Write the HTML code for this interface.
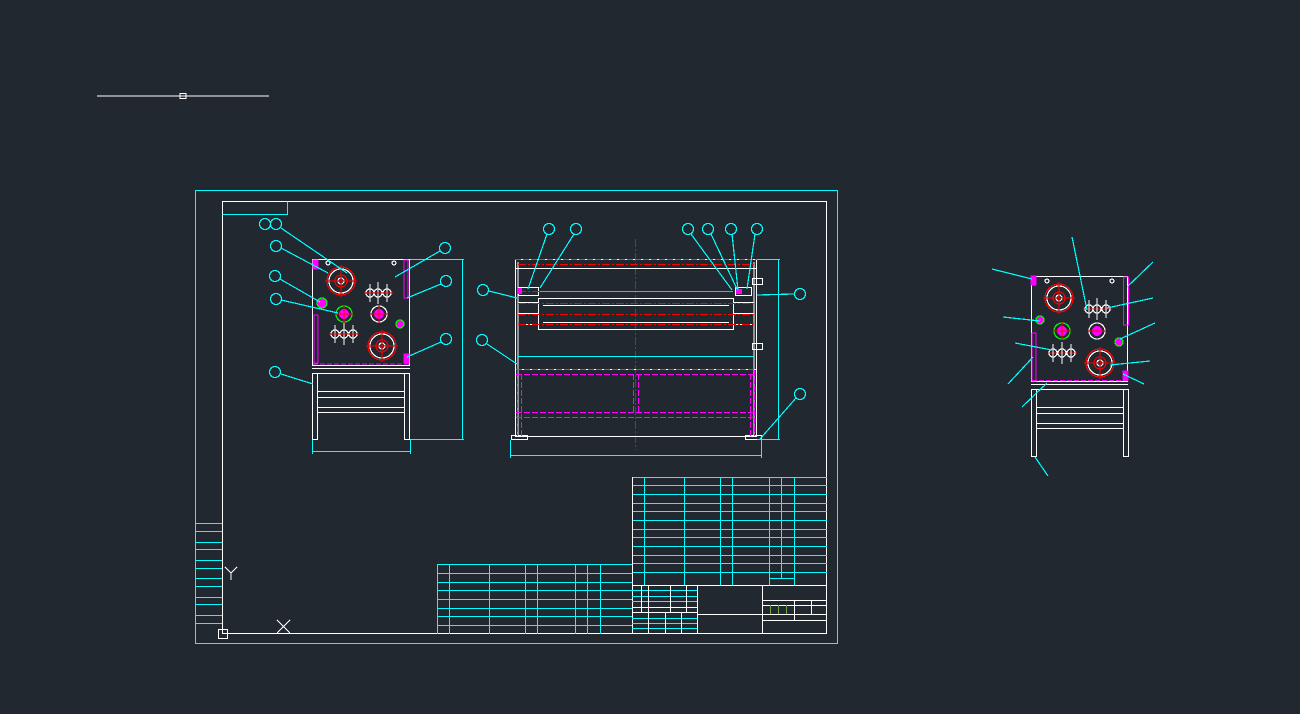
<!DOCTYPE html>
<html><head><meta charset="utf-8"><style>
html,body{margin:0;padding:0;background:#212830;}
svg{display:block}
</style></head><body>
<svg width="1300" height="714" viewBox="0 0 1300 714" xmlns="http://www.w3.org/2000/svg" fill="none" stroke-width="1.2" shape-rendering="crispEdges">
<rect x="0" y="0" width="1300" height="714" fill="#212830"/>
<line x1="97" y1="96" x2="269" y2="96" stroke="#fff"/>
<rect x="180" y="93.5" width="6" height="5" stroke="#fff"/>

<rect x="195.5" y="190.5" width="642" height="453" stroke="#0ff"/>
<rect x="222.5" y="201.5" width="604" height="432" stroke="#fff"/>
<polyline points="222.5,214.5 287.5,214.5 287.5,201.5" stroke="#0ff"/>

<g stroke="#0ff">
<line x1="195" y1="523.5" x2="222" y2="523.5"/><line x1="195" y1="531.5" x2="222" y2="531.5"/>
<line x1="195" y1="542.5" x2="222" y2="542.5"/><line x1="195" y1="549.5" x2="222" y2="549.5"/>
<line x1="195" y1="560.5" x2="222" y2="560.5"/><line x1="195" y1="568.5" x2="222" y2="568.5"/>
<line x1="195" y1="578.5" x2="222" y2="578.5"/><line x1="195" y1="586.5" x2="222" y2="586.5"/>
<line x1="195" y1="597.5" x2="222" y2="597.5"/><line x1="195" y1="604.5" x2="222" y2="604.5"/>
<line x1="195" y1="615.5" x2="222" y2="615.5"/><line x1="195" y1="623.5" x2="222" y2="623.5"/>
</g>
<g stroke="#fff">
<rect x="218.5" y="629.5" width="9" height="9"/>
<polyline points="225,567 231,573 237,567"/><line x1="231" y1="573" x2="231" y2="580"/>
<line x1="277" y1="620" x2="290" y2="633"/><line x1="290" y1="620" x2="277" y2="633"/>
</g>

<g stroke="#0ff">
<line x1="632" y1="477.5" x2="827" y2="477.5"/><line x1="632" y1="485.5" x2="827" y2="485.5"/>
<line x1="632" y1="494.5" x2="827" y2="494.5"/><line x1="632" y1="503.5" x2="827" y2="503.5"/>
<line x1="632" y1="511.5" x2="827" y2="511.5"/><line x1="632" y1="520.5" x2="827" y2="520.5"/>
<line x1="632" y1="529.5" x2="827" y2="529.5"/><line x1="632" y1="537.5" x2="827" y2="537.5"/>
<line x1="632" y1="546.5" x2="827" y2="546.5"/><line x1="632" y1="555.5" x2="827" y2="555.5"/>
<line x1="632" y1="563.5" x2="827" y2="563.5"/><line x1="632" y1="572.5" x2="827" y2="572.5"/>
<line x1="769" y1="578.5" x2="794" y2="578.5"/>
<line x1="644.5" y1="477" x2="644.5" y2="585"/><line x1="684.5" y1="477" x2="684.5" y2="585"/>
<line x1="720.5" y1="477" x2="720.5" y2="585"/><line x1="732.5" y1="477" x2="732.5" y2="585"/>
<line x1="769.5" y1="477" x2="769.5" y2="585"/><line x1="781.5" y1="477" x2="781.5" y2="578"/>
<line x1="794.5" y1="477" x2="794.5" y2="585"/>
</g>
<line x1="632.5" y1="477" x2="632.5" y2="634" stroke="#fff"/>
<line x1="632" y1="585.5" x2="827" y2="585.5" stroke="#fff"/>

<g stroke="#0ff">
<line x1="437" y1="564.5" x2="632" y2="564.5"/><line x1="437" y1="573.5" x2="632" y2="573.5"/>
<line x1="437" y1="582.5" x2="632" y2="582.5"/><line x1="437" y1="590.5" x2="632" y2="590.5"/>
<line x1="437" y1="599.5" x2="632" y2="599.5"/><line x1="437" y1="608.5" x2="632" y2="608.5"/>
<line x1="437" y1="616.5" x2="632" y2="616.5"/><line x1="437" y1="625.5" x2="632" y2="625.5"/>
<line x1="437.5" y1="564" x2="437.5" y2="634"/><line x1="449.5" y1="564" x2="449.5" y2="634"/>
<line x1="489.5" y1="564" x2="489.5" y2="634"/><line x1="525.5" y1="564" x2="525.5" y2="634"/>
<line x1="537.5" y1="564" x2="537.5" y2="634"/><line x1="575.5" y1="564" x2="575.5" y2="634"/>
<line x1="587.5" y1="564" x2="587.5" y2="634"/><line x1="600.5" y1="564" x2="600.5" y2="634"/>
</g>

<g stroke="#0ff">
<line x1="632" y1="590.5" x2="697" y2="590.5"/><line x1="632" y1="596.5" x2="697" y2="596.5"/>
<line x1="632" y1="601.5" x2="697" y2="601.5"/>
<line x1="632" y1="618.5" x2="697" y2="618.5"/><line x1="632" y1="623.5" x2="697" y2="623.5"/>
<line x1="632" y1="628.5" x2="697" y2="628.5"/>
</g>
<g stroke="#fff">
<line x1="632" y1="607.5" x2="697" y2="607.5"/><line x1="632" y1="612.5" x2="697" y2="612.5"/>
<line x1="641.5" y1="585" x2="641.5" y2="612"/><line x1="648.5" y1="585" x2="648.5" y2="634"/>
<line x1="670.5" y1="585" x2="670.5" y2="612"/><line x1="686.5" y1="585" x2="686.5" y2="612"/>
<line x1="665.5" y1="612" x2="665.5" y2="634"/><line x1="681.5" y1="612" x2="681.5" y2="634"/>
<line x1="697.5" y1="585" x2="697.5" y2="634"/><line x1="762.5" y1="585" x2="762.5" y2="634"/>
<line x1="697" y1="614.5" x2="762" y2="614.5"/>
<line x1="762" y1="600.5" x2="827" y2="600.5"/><line x1="762" y1="605.5" x2="827" y2="605.5"/>
<line x1="762" y1="614.5" x2="827" y2="614.5"/><line x1="762" y1="620.5" x2="827" y2="620.5"/>
<line x1="794.5" y1="600" x2="794.5" y2="620"/><line x1="811.5" y1="600" x2="811.5" y2="614"/>
</g>
<g stroke="#6a3"><line x1="770.5" y1="605" x2="770.5" y2="614"/><line x1="778.5" y1="605" x2="778.5" y2="614"/><line x1="786.5" y1="605" x2="786.5" y2="614"/></g>

<!-- LEFT VIEW -->
<g stroke="#fff">
<rect x="312.5" y="259.5" width="97" height="106"/>
<line x1="312" y1="368.5" x2="410" y2="368.5"/><line x1="312" y1="373.5" x2="410" y2="373.5"/>
<rect x="312.5" y="373.5" width="5" height="66"/><rect x="404.5" y="373.5" width="5" height="66"/>
<line x1="318" y1="391.5" x2="404" y2="391.5"/><line x1="318" y1="397.5" x2="404" y2="397.5"/>
<line x1="318" y1="407.5" x2="404" y2="407.5"/><line x1="318" y1="412.5" x2="404" y2="412.5"/>
<circle cx="328" cy="263" r="2"/><circle cx="394" cy="263" r="2"/>
</g>
<g stroke="#f0f"><rect x="313" y="260" width="5" height="9" fill="#f0f"/><rect x="404" y="260" width="4" height="38"/><rect x="314" y="315" width="4" height="48"/><rect x="404" y="354" width="5" height="9" fill="#f0f"/><line x1="313" y1="364" x2="409" y2="364" stroke-dasharray="5,2"/></g>
<g>
<circle cx="341" cy="281" r="14" stroke="#f00"/><circle cx="341" cy="281" r="12" stroke="#fff"/><circle cx="341" cy="281" r="6" stroke="#f00"/><circle cx="341" cy="281" r="3" stroke="#fff"/>
<circle cx="382" cy="346" r="14" stroke="#f00"/><circle cx="382" cy="346" r="12" stroke="#fff"/><circle cx="382" cy="346" r="6" stroke="#f00"/><circle cx="382" cy="346" r="3" stroke="#fff"/>
<circle cx="322" cy="303" r="5" stroke="#0f0" fill="#f0f"/>
<circle cx="344" cy="314" r="8" stroke="#0f0"/><circle cx="344" cy="314" r="5" fill="#f0f"/>
<circle cx="379" cy="314" r="8" stroke="#fff"/><circle cx="379" cy="314" r="5" fill="#f0f"/>
<circle cx="400" cy="324" r="4" stroke="#0f0" fill="#f0f"/>
</g>
<g stroke="#f00"><line x1="325" y1="281" x2="357" y2="281"/><line x1="341" y1="265" x2="341" y2="297"/><line x1="366" y1="346" x2="398" y2="346"/><line x1="382" y1="330" x2="382" y2="362"/><line x1="335" y1="314" x2="353" y2="314"/><line x1="344" y1="305" x2="344" y2="323"/><line x1="370" y1="314" x2="388" y2="314"/><line x1="379" y1="305" x2="379" y2="323"/></g>
<g stroke="#fff"><circle cx="370" cy="293" r="4"/><circle cx="378" cy="293" r="4"/><circle cx="387" cy="293" r="4"/><line x1="370" y1="284" x2="370" y2="302"/><line x1="378" y1="282" x2="378" y2="304"/><line x1="387" y1="284" x2="387" y2="302"/>
<circle cx="335" cy="334" r="4"/><circle cx="344" cy="334" r="4"/><circle cx="353" cy="334" r="4"/><line x1="335" y1="325" x2="335" y2="343"/><line x1="344" y1="323" x2="344" y2="345"/><line x1="353" y1="325" x2="353" y2="343"/></g>
<line x1="364" y1="293" x2="393" y2="293" stroke="#f00"/><line x1="329" y1="334" x2="359" y2="334" stroke="#f00"/>
<g stroke="#0ff">
<line x1="410" y1="259.5" x2="464" y2="259.5"/><line x1="410" y1="439.5" x2="464" y2="439.5"/><line x1="462.5" y1="259" x2="462.5" y2="440"/>
<line x1="312.5" y1="440" x2="312.5" y2="454"/><line x1="410.5" y1="440" x2="410.5" y2="454"/><line x1="312" y1="451.5" x2="410" y2="451.5"/>
<circle cx="265" cy="224" r="5.5"/><circle cx="276" cy="224" r="5.5"/><circle cx="276" cy="246" r="5.5"/><circle cx="275" cy="276" r="5.5"/><circle cx="276" cy="299" r="5.5"/><circle cx="445" cy="248" r="5.5"/><circle cx="446" cy="281" r="5.5"/><circle cx="446" cy="339" r="5.5"/><circle cx="275" cy="372" r="5.5"/>
<line x1="281" y1="228" x2="347" y2="273"/><line x1="281" y1="248" x2="328" y2="273"/><line x1="280" y1="279" x2="320" y2="302"/><line x1="281" y1="300" x2="338" y2="313"/><line x1="440" y1="251" x2="395" y2="277"/><line x1="441" y1="284" x2="407" y2="298"/><line x1="441" y1="342" x2="407" y2="357"/><line x1="281" y1="374" x2="313" y2="384"/>
</g>

<!-- MIDDLE VIEW -->
<line x1="635.5" y1="239" x2="635.5" y2="450" stroke="#f00" stroke-dasharray="8,2,2,2"/>
<g stroke="#fff">
<rect x="515.5" y="259.5" width="241" height="177"/>
<line x1="518" y1="262" x2="518" y2="437"/><line x1="754" y1="262" x2="754" y2="437"/>
<line x1="515" y1="268.5" x2="757" y2="268.5"/>
<rect x="538.5" y="298.5" width="195" height="31"/>
<line x1="543" y1="305.5" x2="729" y2="305.5"/><line x1="543" y1="322.5" x2="729" y2="322.5"/>
<line x1="518" y1="302.5" x2="538" y2="302.5"/><line x1="518" y1="313.5" x2="538" y2="313.5"/><line x1="518" y1="324.5" x2="538" y2="324.5"/>
<line x1="734" y1="302.5" x2="754" y2="302.5"/><line x1="734" y1="313.5" x2="754" y2="313.5"/><line x1="734" y1="324.5" x2="754" y2="324.5"/>
<rect x="518.5" y="287.5" width="20" height="8"/><rect x="735.5" y="287.5" width="16" height="8"/>
<rect x="752.5" y="278.5" width="10" height="6"/><rect x="752.5" y="343.5" width="10" height="6"/>
<rect x="511.5" y="435.5" width="16" height="4"/><rect x="745.5" y="435.5" width="16" height="4"/>
<line x1="515" y1="369.5" x2="757" y2="369.5"/>
</g>
<g stroke="#f00" stroke-dasharray="8,2,2,2"><line x1="518" y1="264.5" x2="754" y2="264.5"/><line x1="518" y1="303.5" x2="754" y2="303.5"/><line x1="518" y1="314.5" x2="754" y2="314.5"/><line x1="518" y1="324.5" x2="754" y2="324.5"/><line x1="518" y1="291.5" x2="540" y2="291.5"/></g>
<line x1="540" y1="291.5" x2="733" y2="291.5" stroke="#0f0"/>
<g stroke="#f0f" stroke-dasharray="6,2">
<line x1="515" y1="259.5" x2="757" y2="259.5"/>
<line x1="516" y1="369.5" x2="756" y2="369.5"/><line x1="516" y1="374.5" x2="756" y2="374.5"/>
<line x1="516" y1="412.5" x2="756" y2="412.5"/><line x1="516" y1="417.5" x2="756" y2="417.5"/>
<line x1="517.5" y1="370" x2="517.5" y2="436"/><line x1="521.5" y1="374" x2="521.5" y2="436"/>
<line x1="750.5" y1="374" x2="750.5" y2="436"/><line x1="754.5" y1="370" x2="754.5" y2="436"/>
<line x1="633.5" y1="374" x2="633.5" y2="413"/><line x1="638.5" y1="374" x2="638.5" y2="413"/>
</g>
<rect x="517" y="288" width="5" height="6" fill="#f0f"/><rect x="736" y="289" width="6" height="5" fill="#f0f"/>
<g stroke="#0ff">
<line x1="518" y1="356.5" x2="754" y2="356.5"/>
<line x1="757" y1="259.5" x2="780" y2="259.5"/><line x1="757" y1="439.5" x2="780" y2="439.5"/><line x1="778.5" y1="259" x2="778.5" y2="440"/>
<line x1="510.5" y1="440" x2="510.5" y2="458"/><line x1="761.5" y1="440" x2="761.5" y2="458"/><line x1="510" y1="455.5" x2="762" y2="455.5"/>
<circle cx="549" cy="229" r="5.5"/><circle cx="576" cy="229" r="5.5"/><circle cx="688" cy="229" r="5.5"/><circle cx="708" cy="229" r="5.5"/><circle cx="731" cy="229" r="5.5"/><circle cx="757" cy="229" r="5.5"/>
<circle cx="483" cy="290" r="5.5"/><circle cx="800" cy="294" r="5.5"/><circle cx="482" cy="340" r="5.5"/><circle cx="800" cy="394" r="5.5"/>
<line x1="547" y1="234" x2="528" y2="289"/><line x1="574" y1="234" x2="540" y2="288"/><line x1="691" y1="234" x2="732" y2="290"/><line x1="711" y1="234" x2="737" y2="289"/><line x1="732" y1="234" x2="738" y2="290"/><line x1="755" y1="234" x2="747" y2="289"/>
<line x1="489" y1="291" x2="517" y2="298"/><line x1="794" y1="294" x2="757" y2="295"/><line x1="487" y1="344" x2="517" y2="364"/><line x1="796" y1="398" x2="760" y2="439"/>
</g>

<!-- RIGHT VIEW -->
<g stroke="#fff">
<rect x="1031.5" y="276.5" width="96" height="105"/>
<line x1="1031" y1="384.5" x2="1128" y2="384.5"/><line x1="1031" y1="389.5" x2="1128" y2="389.5"/>
<rect x="1031.5" y="389.5" width="5" height="67"/><rect x="1123.5" y="389.5" width="5" height="67"/>
<line x1="1037" y1="407.5" x2="1123" y2="407.5"/><line x1="1037" y1="413.5" x2="1123" y2="413.5"/>
<line x1="1037" y1="423.5" x2="1123" y2="423.5"/><line x1="1037" y1="428.5" x2="1123" y2="428.5"/>
<circle cx="1047" cy="281" r="2"/><circle cx="1112" cy="281" r="2"/>
<circle cx="1097" cy="331" r="8"/>
</g>
<g stroke="#f0f"><rect x="1031" y="276" width="5" height="9" fill="#f0f"/><rect x="1123.5" y="277" width="5" height="48"/><rect x="1032" y="333" width="4" height="48"/><rect x="1123" y="371" width="5" height="9" fill="#f0f"/><line x1="1032" y1="380.5" x2="1128" y2="380.5" stroke-dasharray="5,2"/></g>
<g>
<circle cx="1059" cy="298" r="14" stroke="#f00"/><circle cx="1059" cy="298" r="12" stroke="#fff"/><circle cx="1059" cy="298" r="6" stroke="#f00"/><circle cx="1059" cy="298" r="3" stroke="#fff"/>
<circle cx="1100" cy="363" r="14" stroke="#f00"/><circle cx="1100" cy="363" r="12" stroke="#fff"/><circle cx="1100" cy="363" r="6" stroke="#f00"/><circle cx="1100" cy="363" r="3" stroke="#fff"/>
<circle cx="1062" cy="331" r="8" stroke="#0f0"/><circle cx="1062" cy="331" r="5" fill="#f0f"/>
<circle cx="1097" cy="331" r="5" fill="#f0f"/>
<circle cx="1040" cy="320" r="4" stroke="#0f0" fill="#f0f"/><circle cx="1119" cy="342" r="4" stroke="#0f0" fill="#f0f"/>
</g>
<g stroke="#f00"><line x1="1043" y1="298" x2="1075" y2="298"/><line x1="1059" y1="282" x2="1059" y2="314"/><line x1="1084" y1="363" x2="1116" y2="363"/><line x1="1100" y1="347" x2="1100" y2="379"/><line x1="1053" y1="331" x2="1071" y2="331"/><line x1="1062" y1="322" x2="1062" y2="340"/><line x1="1088" y1="331" x2="1106" y2="331"/><line x1="1083" y1="309" x2="1112" y2="309"/><line x1="1048" y1="353" x2="1077" y2="353"/></g>
<g stroke="#fff"><circle cx="1089" cy="309" r="4"/><circle cx="1097" cy="309" r="4"/><circle cx="1106" cy="309" r="4"/><line x1="1089" y1="300" x2="1089" y2="318"/><line x1="1097" y1="298" x2="1097" y2="320"/><line x1="1106" y1="300" x2="1106" y2="318"/>
<circle cx="1053" cy="353" r="4"/><circle cx="1062" cy="353" r="4"/><circle cx="1071" cy="353" r="4"/><line x1="1053" y1="344" x2="1053" y2="362"/><line x1="1062" y1="342" x2="1062" y2="364"/><line x1="1071" y1="344" x2="1071" y2="362"/></g>
<g stroke="#0ff">
<line x1="992" y1="269" x2="1032" y2="279"/><line x1="1072" y1="237" x2="1087" y2="310"/><line x1="1153" y1="262" x2="1127" y2="287"/><line x1="1153" y1="298" x2="1107" y2="308"/><line x1="1155" y1="323" x2="1120" y2="339"/><line x1="1150" y1="361" x2="1110" y2="365"/><line x1="1144" y1="384" x2="1123" y2="374"/><line x1="1003" y1="317" x2="1040" y2="321"/><line x1="1015" y1="343" x2="1052" y2="350"/><line x1="1008" y1="384" x2="1033" y2="357"/><line x1="1022" y1="407" x2="1047" y2="383"/><line x1="1035" y1="457" x2="1048" y2="476"/>
</g>
</svg>
</body></html>
